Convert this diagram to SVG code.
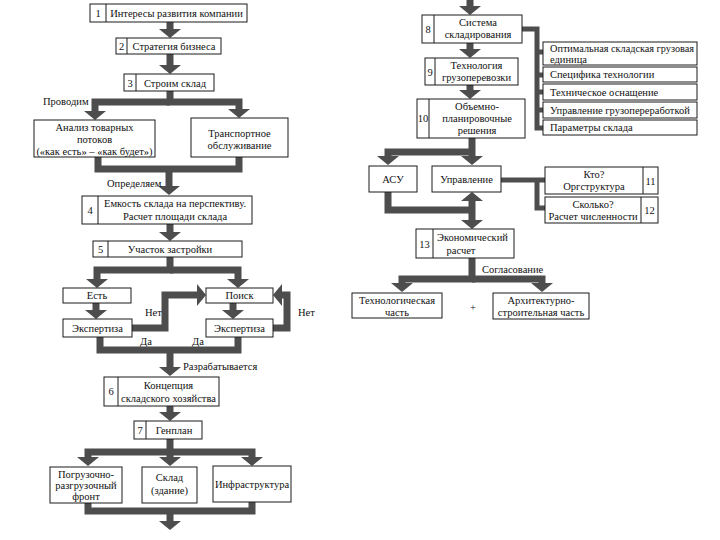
<svg xmlns="http://www.w3.org/2000/svg" width="720" height="540" viewBox="0 0 720 540">
<style>
.b{fill:#fff;stroke:#1a1a1a;stroke-width:1}
.d{stroke:#1a1a1a;stroke-width:1;fill:none}
.t{font-family:"Liberation Serif","Times New Roman","DejaVu Serif",serif;font-size:10.5px;fill:#111}
.c{text-anchor:middle}
.a{fill:none;stroke:#4d4d4d;stroke-width:7;stroke-linejoin:miter}
.s{fill:none;stroke:#4d4d4d;stroke-width:5}
</style>
<defs>
<marker id="h" markerUnits="userSpaceOnUse" viewBox="0 0 9 22" refX="0" refY="11" markerWidth="9" markerHeight="22" orient="auto-start-reverse">
<path d="M0,0 L9,11 L0,22 z" fill="#4d4d4d"/>
</marker>
</defs>
<rect width="720" height="540" fill="#fff"/>

<g id="connectors">
<path class="a" d="M170,22 V29" marker-end="url(#h)"/>
<path class="a" d="M170,54 V65" marker-end="url(#h)"/>
<path class="a" d="M170,91 V102 H239 V109" marker-end="url(#h)"/>
<path class="a" d="M170,102 H95 V111" marker-end="url(#h)"/>
<path class="a" d="M98,157 V169 H239 V157"/>
<path class="a" d="M169,169 V186" marker-end="url(#h)"/>
<path class="a" d="M170,224 V232" marker-end="url(#h)"/>
<path class="a" d="M170,257 V270 H97 V279" marker-end="url(#h)"/>
<path class="a" d="M170,270 H238 V279" marker-end="url(#h)"/>
<path class="a" d="M96,303 V310" marker-end="url(#h)"/>
<path class="a" d="M233,303 V310" marker-end="url(#h)"/>
<path class="a" d="M132,328 H165 V295 H197" marker-end="url(#h)"/>
<path class="a" d="M273,328 H287 V295 H282" marker-end="url(#h)"/>
<path class="a" d="M100,337 V350 H238 V337"/>
<path class="a" d="M170,350 V367" marker-end="url(#h)"/>
<path class="a" d="M170,406 V412" marker-end="url(#h)"/>
<path class="a" d="M170,439 V457" marker-end="url(#h)"/>
<path class="a" d="M170,452 H88 V457" marker-end="url(#h)"/>
<path class="a" d="M170,452 H252 V457" marker-end="url(#h)"/>
<path class="a" d="M88,503 V511 H252 V502"/>
<path class="a" d="M170,511 V521" marker-end="url(#h)"/>

<path class="a" d="M470,0 V6" marker-end="url(#h)"/>
<path class="a" d="M470,43 V49" marker-end="url(#h)"/>
<path class="a" d="M470,85 V90" marker-end="url(#h)"/>
<path class="s" d="M522,29 H537 V128 H543"/>
<path class="s" d="M537,52 H543 M537,75 H543 M537,92 H543 M537,110 H543"/>
<path class="a" d="M472,138 V156" marker-end="url(#h)"/>
<path class="a" d="M472,152 H388 V156" marker-end="url(#h)"/>
<path class="s" d="M501,180 H545"/>
<path class="s" d="M537,180 V208 H545"/>
<path class="a" d="M388,192 V210 H472"/>
<path class="a" d="M472,201 V220" marker-start="url(#h)" marker-end="url(#h)"/>
<path class="a" d="M472,258 V279 H402 V283" marker-end="url(#h)"/>
<path class="a" d="M472,279 H542 V283" marker-end="url(#h)"/>
</g>

<g id="n1"><rect class="b" x="90" y="4" width="157" height="18"/><path class="d" d="M106,4 V22"/><text class="t c" x="98" y="17">1</text><text class="t c" x="176.5" y="17">Интересы развития компании</text></g>
<g id="n2"><rect class="b" x="116" y="38" width="105" height="16"/><path class="d" d="M127,38 V54"/><text class="t c" x="121.5" y="50">2</text><text class="t c" x="174" y="50">Стратегия бизнеса</text></g>
<g id="n3"><rect class="b" x="124" y="74" width="90" height="17"/><path class="d" d="M136,74 V91"/><text class="t c" x="130" y="87">3</text><text class="t c" x="175" y="87">Строим склад</text></g>
<text class="t" x="43" y="105">Проводим</text>
<g id="n-analysis"><rect class="b" x="34" y="120" width="121" height="37"/><text class="t c" x="94.5" y="131">Анализ товарных</text><text class="t c" x="94.5" y="143">потоков</text><text class="t c" x="94.5" y="155">(«как есть» – «как будет»)</text></g>
<g id="n-transport"><rect class="b" x="191" y="118" width="97" height="39"/><text class="t c" x="239.5" y="137">Транспортное</text><text class="t c" x="239.5" y="149">обслуживание</text></g>
<text class="t" x="107" y="187">Определяем</text>
<g id="n4"><rect class="b" x="82" y="196" width="170" height="28"/><path class="d" d="M98,196 V224"/><text class="t c" x="90" y="214">4</text><text class="t c" x="175" y="207">Емкость склада на перспективу.</text><text class="t c" x="175" y="220">Расчет площади склада</text></g>
<g id="n5"><rect class="b" x="93" y="241" width="149" height="16"/><path class="d" d="M108,241 V257"/><text class="t c" x="100.5" y="253">5</text><text class="t c" x="170" y="253">Участок застройки</text></g>
<g id="n-est"><rect class="b" x="63" y="288" width="68" height="15"/><text class="t c" x="97" y="299">Есть</text></g>
<g id="n-poisk"><rect class="b" x="206" y="288" width="67" height="15"/><text class="t c" x="239.5" y="299">Поиск</text></g>
<g id="n-exp1"><rect class="b" x="63" y="319" width="69" height="18"/><text class="t c" x="97.5" y="332">Экспертиза</text></g>
<g id="n-exp2"><rect class="b" x="206" y="319" width="67" height="18"/><text class="t c" x="239.5" y="332">Экспертиза</text></g>
<text class="t" x="145" y="316">Нет</text>
<text class="t" x="298" y="316">Нет</text>
<text class="t" x="140" y="345">Да</text>
<text class="t" x="192" y="345">Да</text>
<text class="t" x="183" y="370">Разрабатывается</text>
<g id="n6"><rect class="b" x="104" y="377" width="115" height="29"/><path class="d" d="M118,377 V406"/><text class="t c" x="111" y="395">6</text><text class="t c" x="168.5" y="389">Концепция</text><text class="t c" x="168.5" y="402">складского хозяйства</text></g>
<g id="n7"><rect class="b" x="134" y="421" width="68" height="18"/><path class="d" d="M146,421 V439"/><text class="t c" x="140" y="434">7</text><text class="t c" x="174" y="434">Генплан</text></g>
<g id="n-front"><rect class="b" x="50" y="467" width="72" height="36"/><text class="t c" x="86" y="478">Погрузочно-</text><text class="t c" x="86" y="489">разгрузочный</text><text class="t c" x="86" y="500">фронт</text></g>
<g id="n-sklad"><rect class="b" x="142" y="467" width="55" height="36"/><text class="t c" x="169.5" y="481">Склад</text><text class="t c" x="169.5" y="494">(здание)</text></g>
<g id="n-infra"><rect class="b" x="213" y="466" width="78" height="36"/><text class="t c" x="252" y="488">Инфраструктура</text></g>

<g id="n8"><rect class="b" x="422" y="15" width="100" height="28"/><path class="d" d="M434,15 V43"/><text class="t c" x="428" y="33">8</text><text class="t c" x="478" y="26">Система</text><text class="t c" x="478" y="38">складирования</text></g>
<g id="n9"><rect class="b" x="425" y="58" width="93" height="27"/><path class="d" d="M435,58 V85"/><text class="t c" x="430" y="76">9</text><text class="t c" x="476.5" y="69">Технология</text><text class="t c" x="476.5" y="81">грузоперевозки</text></g>
<g id="n10"><rect class="b" x="417" y="99" width="108" height="39"/><path class="d" d="M429,99 V138"/><text class="t c" x="423" y="122">10</text><text class="t c" x="477" y="110">Объемно-</text><text class="t c" x="477" y="122">планировочные</text><text class="t c" x="477" y="134">решения</text></g>
<g id="n-ra"><rect class="b" x="543" y="42" width="154" height="23"/><text class="t" x="550" y="52" textLength="144" lengthAdjust="spacingAndGlyphs">Оптимальная складская грузовая</text><text class="t" x="550" y="63">единица</text></g>
<g id="n-rb"><rect class="b" x="543" y="67" width="154" height="15"/><text class="t" x="550" y="78">Специфика технологии</text></g>
<g id="n-rc"><rect class="b" x="543" y="84" width="154" height="16"/><text class="t" x="550" y="96">Техническое оснащение</text></g>
<g id="n-rd"><rect class="b" x="543" y="102" width="154" height="16"/><text class="t" x="550" y="114">Управление грузопереработкой</text></g>
<g id="n-re"><rect class="b" x="543" y="120" width="154" height="15"/><text class="t" x="550" y="131">Параметры склада</text></g>
<g id="n-asu"><rect class="b" x="369" y="166" width="48" height="26"/><text class="t c" x="393" y="183">АСУ</text></g>
<g id="n-upr"><rect class="b" x="432" y="166" width="69" height="26"/><text class="t c" x="466.5" y="183">Управление</text></g>
<g id="n11"><rect class="b" x="545" y="167" width="113" height="27"/><path class="d" d="M643,167 V194"/><text class="t c" x="594" y="178">Кто?</text><text class="t c" x="594" y="190">Оргструктура</text><text class="t c" x="650.5" y="185">11</text></g>
<g id="n12"><rect class="b" x="545" y="197" width="113" height="26"/><path class="d" d="M641,197 V223"/><text class="t c" x="593" y="208">Сколько?</text><text class="t c" x="593" y="220">Расчет численности</text><text class="t c" x="649.5" y="214">12</text></g>
<g id="n13"><rect class="b" x="416" y="229" width="98" height="29"/><path class="d" d="M433,229 V258"/><text class="t c" x="424.5" y="248">13</text><text class="t" x="437" y="241">Экономический</text><text class="t c" x="461" y="254">расчет</text></g>
<text class="t" x="482" y="273">Согласование</text>
<g id="n-tech"><rect class="b" x="352" y="293" width="90" height="25"/><text class="t c" x="397" y="304">Технологическая</text><text class="t c" x="397" y="316">часть</text></g>
<text class="t c" x="473" y="311">+</text>
<g id="n-arch"><rect class="b" x="493" y="293" width="96" height="26"/><text class="t c" x="541" y="304">Архитектурно-</text><text class="t c" x="541" y="316">строительная часть</text></g>
</svg>
